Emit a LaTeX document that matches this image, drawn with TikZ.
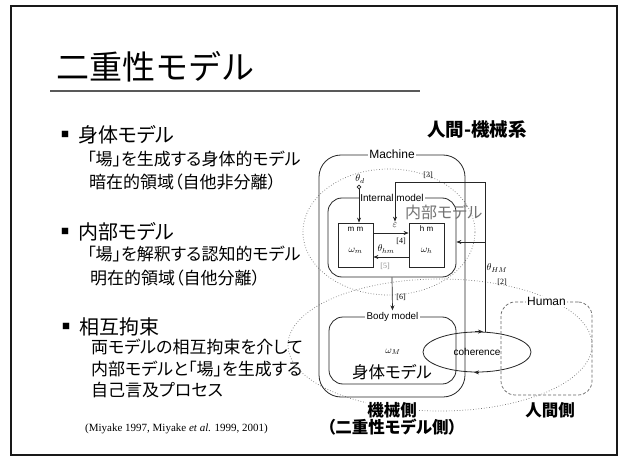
\documentclass[tikz,border=0pt]{standalone}
\usepackage{fontspec}
\usetikzlibrary{arrows.meta,shapes.geometric}
\newfontfamily\jp{Noto Sans CJK JP}
\newfontfamily\jpp[RawFeature=+palt]{Noto Sans CJK JP}
\newfontfamily\lsans{Liberation Sans}
\newfontfamily\lserif{Liberation Serif}
\begin{document}
\begin{tikzpicture}[x=1pt,y=-1pt,
  ttl/.style={font=\jp\fontsize{33}{36}\selectfont, anchor=west, inner sep=0pt},
  head/.style={font=\jpp\fontsize{20}{23}\selectfont, anchor=west, inner sep=0pt},
  bodytext/.style={font=\jpp\fontsize{17}{20}\selectfont, anchor=west, inner sep=0pt},
  bul/.style={font=\jp\fontsize{8}{8}\selectfont, inner sep=0pt},
  citetext/.style={font=\lserif\fontsize{11}{13}\selectfont, anchor=west, inner sep=0pt},
  jpb/.style={font=\jpp\bfseries\fontsize{16.5}{19}\selectfont, inner sep=1.5pt},
  jpl/.style={font=\jpp\fontsize{16.5}{19}\selectfont, inner sep=0pt},
  box/.style={draw=black!85, line width=0.8pt, inner sep=0pt},
  lab/.style={fill=white, inner sep=1.5pt},
  arr/.style={-{Stealth[length=5pt,width=4pt]}, line width=0.7pt, draw=black!85},
  tag/.style={font=\lserif\fontsize{8}{9}\selectfont, inner sep=0.5pt},
  mathlbl/.style={font=\fontsize{10}{12}\selectfont, inner sep=1pt},
  smalllbl/.style={font=\lsans\fontsize{8}{9}\selectfont, inner sep=0pt},
  dotl/.style={dotted, line width=0.7pt, draw=black!55}
]
\useasboundingbox (0,0) rectangle (623,462);
\fill[white] (0,0) rectangle (623,462);
% frame
\draw[line width=1.3pt, black!90] (11,6) rectangle (617,455);
% title
\node[ttl] (title) at (56,67) {二重性モデル};
\draw[line width=1.3pt, black!65] (50,91) -- (420,91);
% left text
\node[bul] (b1) at (65,134) {■};
\node[head] (h1) at (78,135) {身体モデル};
\node[bodytext] (t11) at (87,159) {「場」を生成する身体的モデル};
\node[bodytext] (t12) at (89,182) {暗在的領域（自他非分離）};
\node[bul] (b2) at (65,231) {■};
\node[head] (h2) at (78,232) {内部モデル};
\node[bodytext] (t21) at (87,254) {「場」を解釈する認知的モデル};
\node[bodytext] (t22) at (90,278) {明在的領域（自他分離）};
\node[bul] (b3) at (66,326) {■};
\node[head] (h3) at (79,327) {相互拘束};
\node[bodytext] (t31) at (91,347) {両モデルの相互拘束を介して};
\node[bodytext] (t32) at (91,369) {内部モデルと「場」を生成する};
\node[bodytext] (t33) at (91,390) {自己言及プロセス};
\node[citetext] (cit) at (85,429) {(Miyake 1997, Miyake \textit{et al.} 1999, 2001)};
% diagram heading
\node[jpb, font=\jpp\bfseries\fontsize{18.5}{21}\selectfont] (sys) at (477,129) {人間-機械系};
% dotted regions
\draw[dotl] (440,345) ellipse [x radius=152pt, y radius=66pt];
\draw[dotl] (389,232) ellipse [x radius=86pt, y radius=63pt];
% machine
\node[box, rounded corners=22pt, minimum width=146pt, minimum height=242pt] (mach) at (392,276) {};
\node[lab, font=\lsans\fontsize{12}{14}\selectfont] (machl) at (mach.north) {Machine};
% internal model
\node[box, rounded corners=14pt, minimum width=128pt, minimum height=79pt] (intm) at (392,237.5) {};
\node[lab, font=\lsans\fontsize{10}{12}\selectfont] (intml) at (intm.north) {Internal model};
\node[font=\jpp\fontsize{16}{18}\selectfont, text=black!55, anchor=west, inner sep=0pt] (intmj) at (405,212) {内部モデル};
\node[box, fill=white, minimum width=35pt, minimum height=44pt] (mm) at (355.5,245) {};
\node[box, fill=white, minimum width=35pt, minimum height=44pt] (hm) at (426.5,245) {};
\node[smalllbl] (mml) at (355.5,229) {m m};
\node[smalllbl] (hml) at (426.5,229) {h m};
\node[mathlbl] (omm) at (355.5,251) {$\omega_m$};
\node[mathlbl] (omh) at (426.5,251) {$\omega_h$};
\coordinate (ya) at (0,233);
\coordinate (yb) at (0,257);
\draw[arr] (mm.east |- ya) -- (hm.west |- ya);
\draw[arr] (hm.west |- yb) -- (mm.east |- yb);
\node[mathlbl] (thhm) at (386,249) {$\theta_{hm}$};
\node[tag] (t4) at (401,241) {[4]};
\node[tag, text=black!45] (t5) at (385,266) {[5]};
% theta_d input
\coordinate (thd) at (359,187);
\node[mathlbl] (thdl) at (360,179) {$\theta_d$};
\draw[line width=0.7pt, black!85] (thd) circle (1.8pt);
\draw[arr] ([yshift=-1.8pt]thd) -- (thd |- mm.north);
% body model
\node[box, rounded corners=14pt, minimum width=127pt, minimum height=67pt] (bodym) at (392.5,350.5) {};
\node[lab, font=\lsans\fontsize{9.8}{11}\selectfont] (bodyl) at (bodym.north) {Body model};
\node[mathlbl] (omM) at (393,352) {$\omega_M$};
\node[jpl] (bodyj) at (392,372) {身体モデル};
\draw[arr] (intm.south) -- (bodyl.north);
\node[tag] (t6) at (401,297) {[6]};
% human
\node[draw=black!60, densely dashed, line width=0.7pt, rounded corners=14pt, minimum width=91pt, minimum height=93pt, inner sep=0pt] (hum) at (546.5,348.5) {};
\node[lab, font=\lsans\fontsize{12}{14}\selectfont] (huml) at (hum.north) {Human};
% coherence
\node[draw=black!85, line width=0.8pt, ellipse, minimum width=108pt, minimum height=40pt, inner sep=0pt, font=\lsans\fontsize{10}{12}\selectfont] (coh) at (477,352) {coherence};
\draw[arr] ([xshift=-2pt]coh.north) -- ([xshift=6pt]coh.north);
\draw[arr] ([xshift=2pt]coh.south) -- ([xshift=-3pt]coh.south);
% feedback loop
\coordinate (rtop) at (485,182);
\coordinate (rin) at (485,242);
\node[mathlbl] (eps) at (395,225) {$\varepsilon$};
\draw[arr] (coh.north -| rtop) -- (rtop) -| (eps.north);
\draw[arr] (rin) -- (rin -| intm.east);
\node[mathlbl] (thHM) at (497,268) {$\theta_{HM}$};
\node[tag] (t2) at (502,282) {[2]};
\node[tag] (t3) at (428,175) {[3]};
% bottom labels
\node[jpb, fill=white] (mside) at (392,410) {機械側};
\node[jpb] (mside2) at (392,427) {（二重性モデル側）};
\node[jpb, fill=white] (hside) at (550,410) {人間側};
\end{tikzpicture}
\end{document}
